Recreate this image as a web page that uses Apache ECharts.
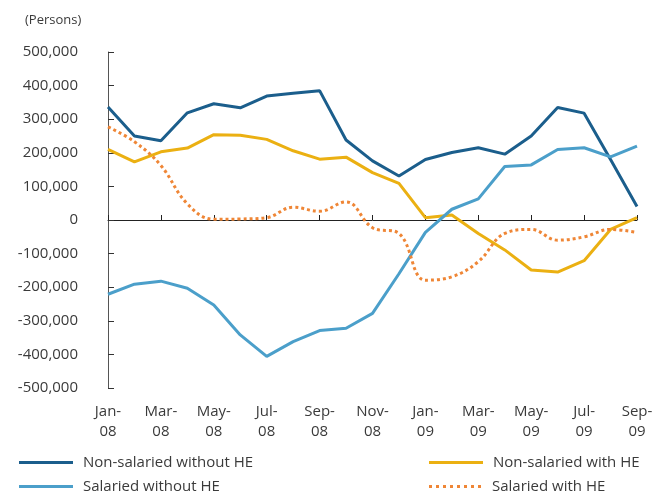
<!DOCTYPE html>
<html><head><meta charset="utf-8">
<script src="https://cdn.jsdelivr.net/npm/echarts@6/dist/echarts.min.js"></script>
<style>html,body{margin:0;padding:0;background:#fff}#c{width:666px;height:497px}</style>
</head><body><div id="c"></div>
<script>
const months = ['Jan-\n08','Feb-\n08','Mar-\n08','Apr-\n08','May-\n08','Jun-\n08','Jul-\n08','Aug-\n08','Sep-\n08','Oct-\n08','Nov-\n08','Dec-\n08',
  'Jan-\n09','Feb-\n09','Mar-\n09','Apr-\n09','May-\n09','Jun-\n09','Jul-\n09','Aug-\n09','Sep-\n09'];
const nonSalariedWithoutHE = [336000,250000,236000,319000,346000,334000,369000,377000,385000,238000,176000,131000,180000,201000,215000,196000,250000,335000,318000,180000,40000];
const nonSalariedWithHE = [210000,173000,203000,214000,254000,252000,240000,206000,181000,187000,141000,109000,7000,15000,-40000,-89000,-149000,-155000,-121000,-28000,7000];
const salariedWithoutHE = [-221000,-191000,-182000,-203000,-253000,-342000,-406000,-362000,-329000,-322000,-278000,-160000,-37000,32000,63000,159000,164000,210000,215000,188000,220000];
const salariedWithHE = [277000,233000,162000,48000,2000,3000,7000,38000,26000,54000,-23000,-40000,-179000,-169000,-124000,-40000,-28000,-60000,-50000,-28000,-37000];

const FONT = 'Open Sans';
const TXT = '#3a3a3a';
const C1 = '#1b5e8c', C2 = '#ebb012', C3 = '#4b9fca', C4 = '#ef8636';

const chart = echarts.init(document.getElementById('c'));
const legText = {fontFamily:FONT, fontSize:15, color:TXT, padding:[0,0,0,5]};
const dots = 'path://M0,0h3v3h-3zM7,0h3v3h-3zM14,0h3v3h-3zM21,0h3v3h-3zM28,0h3v3h-3zM35,0h3v3h-3zM42,0h3v3h-3zM49,0h3v3h-3z';
function leg(name, icon, left, top) {
  return {data:[{name:name, icon:icon}], left:left, top:top, itemWidth:54, itemHeight:3, selectedMode:false, textStyle:legText};
}
chart.setOption({
  animation:false,
  grid:{left:108, right:29, top:52, bottom:109, containLabel:false},
  title:{text:'(Persons)', left:20, top:9, textStyle:{fontFamily:FONT, fontSize:13, fontWeight:'normal', color:TXT}},
  legend:[
    leg('Non-salaried without HE', 'rect', 14, 450),
    leg('Non-salaried with HE', 'rect', 424, 450),
    leg('Salaried without HE', 'rect', 14, 474),
    leg('Salaried with HE', dots, 424, 474)
  ],
  xAxis:[
    {type:'category', data:months, boundaryGap:false, position:'bottom',
      axisLine:{onZero:true, lineStyle:{color:'#222', width:1}},
      axisTick:{show:true, inside:true, length:5, interval:1, lineStyle:{color:'#222'}},
      axisLabel:{show:false}},
    {type:'category', data:months, boundaryGap:false, position:'bottom',
      axisLine:{show:false, onZero:false}, axisTick:{show:false},
      axisLabel:{show:true, interval:1, margin:14, fontFamily:FONT, fontSize:15, color:TXT, lineHeight:20}}
  ],
  yAxis:{type:'value', min:-500000, max:500000, interval:100000,
    axisLine:{show:true, lineStyle:{color:'#555', width:1}},
    axisTick:{show:true, inside:true, length:6, lineStyle:{color:'#333'}},
    splitLine:{show:false},
    axisLabel:{margin:30, fontFamily:FONT, fontSize:15, color:TXT,
      formatter:v=>v.toLocaleString('en-US')}},
  series:[
    {name:'Non-salaried without HE', type:'line', data:nonSalariedWithoutHE, symbol:'none', lineStyle:{width:3, color:C1}, itemStyle:{color:C1}},
    {name:'Non-salaried with HE', type:'line', data:nonSalariedWithHE, symbol:'none', lineStyle:{width:3, color:C2}, itemStyle:{color:C2}},
    {name:'Salaried without HE', type:'line', data:salariedWithoutHE, symbol:'none', lineStyle:{width:3, color:C3}, itemStyle:{color:C3}},
    {name:'Salaried with HE', type:'line', data:salariedWithHE, symbol:'none', smooth:0.4, lineStyle:{width:3, color:C4, type:[3,3]}, itemStyle:{color:C4}}
  ]
});
</script></body></html>
